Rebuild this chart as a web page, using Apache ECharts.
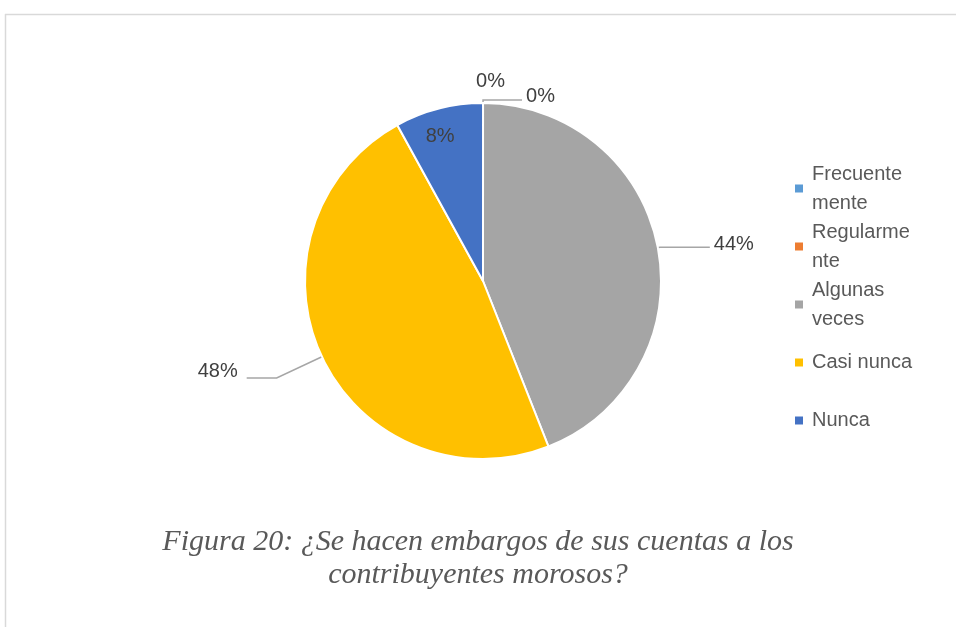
<!DOCTYPE html>
<html>
<head>
<meta charset="utf-8">
<script src="https://cdn.jsdelivr.net/npm/echarts@6/dist/echarts.min.js"></script>
<style>
  html, body { margin: 0; padding: 0; background: #fff; }
  #chart { width: 956px; height: 627px; }
</style>
</head>
<body>
<div id="chart"></div>
<script>
// categories and percentages
var categories = ['Frecuentemente', 'Regularmente', 'Algunas veces', 'Casi nunca', 'Nunca'];
var values = [0, 0, 44, 48, 8];
var colors = ['#5b9bd5', '#ed7d31', '#a5a5a5', '#ffc000', '#4472c4'];
var titleLines = ['Figura 20: ¿Se hacen embargos de sus cuentas a los', 'contribuyentes morosos?'];

// per-slice label tweaks (Excel puts them in odd places)
var labelLines = [
  { show: false, length: 6, length2: 0 },
  { show: true, length: 3, length2: 39 },
  { show: true, length: 2, length2: 50 },
  { show: true, length: 50, length2: 30 },
  { show: false }
];
var labelShift = [[-11, -16], [0, -4], [0, -3], [-5, -7], [-20, -55]];

var pieData = categories.map(function (name, i) {
  var item = {
    name: name,
    value: values[i],
    itemStyle: { color: colors[i] },
    labelLine: labelLines[i]
  };
  if (name === 'Nunca') {
    item.label = { position: 'inside' };
  }
  return item;
});

var legendData = categories.map(function (name) {
  var pad = name === 'Casi nunca' || name === 'Nunca' ? [29, 0, 29, 4] : [29, 0, 0, 4];
  return { name: name, textStyle: { padding: pad } };
});

var titleFont = 'italic 30px "Liberation Serif", "Times New Roman", serif';

var chart = echarts.init(document.getElementById('chart'));
chart.setOption({
  animation: false,
  graphic: [
    { type: 'line', shape: { x1: 5, y1: 14.5, x2: 956, y2: 14.5 }, style: { stroke: '#d9d9d9', lineWidth: 1.5 } },
    { type: 'line', shape: { x1: 5.5, y1: 14, x2: 5.5, y2: 627 }, style: { stroke: '#d9d9d9', lineWidth: 1.5 } },
    { type: 'text', left: 'center', top: 527, style: { text: titleLines[0], font: titleFont, fill: '#595959' } },
    { type: 'text', left: 'center', top: 560, style: { text: titleLines[1], font: titleFont, fill: '#595959' } }
  ],
  legend: {
    orient: 'vertical',
    left: 795,
    top: 145,
    padding: 0,
    itemGap: -29,
    itemWidth: 8,
    itemHeight: 8,
    icon: 'rect',
    selectedMode: false,
    itemStyle: { borderWidth: 0 },
    data: legendData,
    textStyle: {
      fontFamily: 'Liberation Sans',
      fontSize: 20,
      color: '#595959',
      lineHeight: 29,
      width: 104,
      overflow: 'break'
    }
  },
  series: [{
    type: 'pie',
    center: [483, 281],
    radius: 178,
    startAngle: 89.99,
    clockwise: true,
    avoidLabelOverlap: false,
    itemStyle: { borderColor: '#fff', borderWidth: 2 },
    label: {
      show: true,
      formatter: '{d}%',
      fontFamily: 'Liberation Sans',
      fontSize: 20,
      color: '#404040',
      distanceToLabelLine: 4
    },
    labelLine: { lineStyle: { color: '#a6a6a6', width: 1.5 } },
    emphasis: { disabled: true },
    labelLayout: function (p) {
      var s = labelShift[p.dataIndex];
      return { dx: s[0], dy: s[1] };
    },
    data: pieData
  }]
});
</script>
</body>
</html>
